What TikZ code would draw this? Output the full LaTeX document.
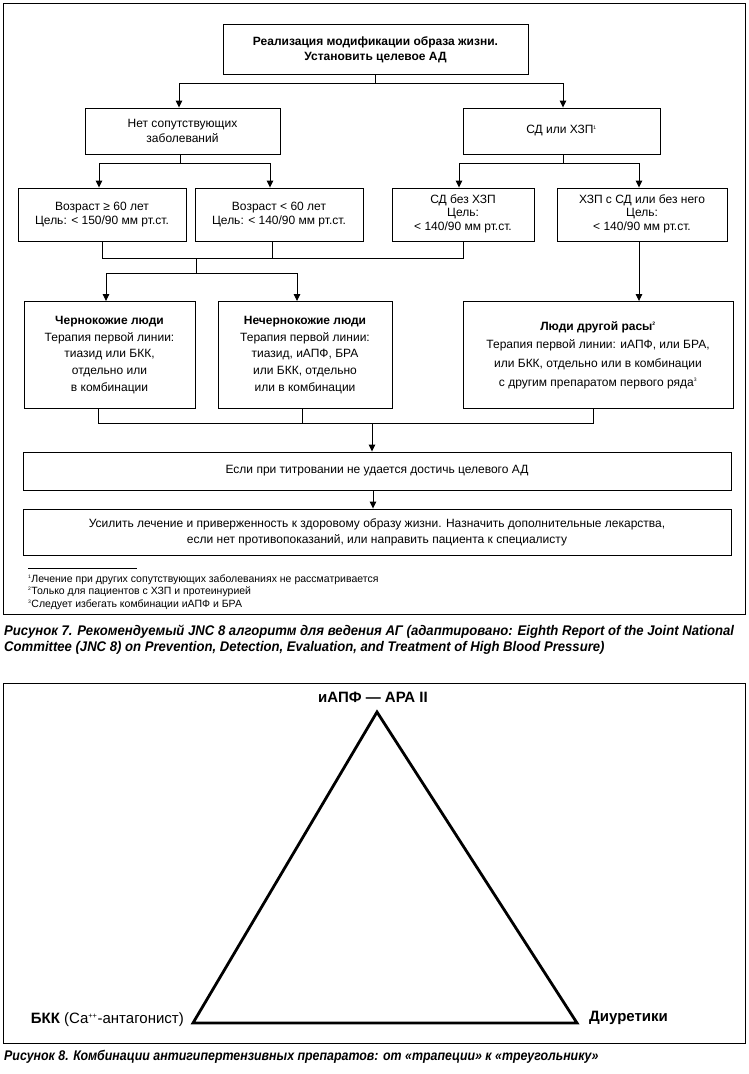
\documentclass[tikz,border=0pt]{standalone}
\usepackage{fontspec}
\setmainfont{Liberation Sans}
\usetikzlibrary{arrows.meta}
\newcommand{\capfont}{\fontsize{14}{16}\selectfont\bfseries\itshape}
\begin{document}
\begin{tikzpicture}[x=1pt,y=-1pt,
  box/.style={draw, line width=0.9pt, align=center, inner sep=0pt, font=\fontsize{12}{14}\selectfont},
  arr/.style={-{Triangle[width=6.5pt,length=7pt]}, line width=0.9pt},
  ln/.style={line width=0.9pt},
  framebox/.style={draw, line width=0.9pt},
  notetext/.style={inner sep=0pt, align=left, font=\fontsize{10.5}{12.5}\selectfont},
  captext/.style={inner sep=0pt, anchor=west, font=\capfont},
  triline/.style={line width=2.8pt, line join=miter},
  labtext/.style={inner sep=0pt, font=\fontsize{15}{17}\selectfont\bfseries}]
\useasboundingbox (0,0) rectangle (748,1074);
% ---------- figure 7 frame
\draw[framebox] (3,3) rectangle (745,614);
% ---------- boxes
\node[box, minimum width=305pt, minimum height=50pt, font=\fontsize{12}{15}\selectfont] (top) at (375.5,49.5)
  {\textbf{Реализация модификации образа жизни.}\\\textbf{Установить целевое АД}};
\node[box, minimum width=195pt, minimum height=46pt, font=\fontsize{12}{15}\selectfont] (A) at (182.5,131) {Нет сопутствующих\\заболеваний};
\node[box, minimum width=197pt, minimum height=46pt] (B) at (561.5,131) {СД или ХЗП\textsuperscript{\tiny 1}};
\node[box, minimum width=168pt, minimum height=53pt] (C) at (102,214.5) {Возраст ≥ 60 лет\\Цель: < 150/90 мм рт.ст.};
\node[box, minimum width=168pt, minimum height=53pt] (D) at (279,214.5) {Возраст < 60 лет\\Цель: < 140/90 мм рт.ст.};
\node[box, minimum width=142pt, minimum height=53pt, font=\fontsize{12}{13.2}\selectfont, text depth=4pt] (E) at (463,214.5) {СД без ХЗП\\Цель:\\< 140/90 мм рт.ст.};
\node[box, minimum width=170pt, minimum height=53pt, font=\fontsize{12}{13.2}\selectfont, text depth=4pt] (F) at (642,214.5) {ХЗП с СД или без него\\Цель:\\< 140/90 мм рт.ст.};
\node[box, minimum width=171pt, minimum height=107pt, font=\fontsize{12}{16.7}\selectfont] (G) at (109.5,355)
  {\textbf{Чернокожие люди}\\Терапия первой линии:\\тиазид или БКК,\\отдельно или\\в комбинации};
\node[box, minimum width=174pt, minimum height=107pt, font=\fontsize{12}{16.7}\selectfont] (H) at (305,355)
  {\textbf{Нечернокожие люди}\\Терапия первой линии:\\тиазид, иАПФ, БРА\\или БКК, отдельно\\или в комбинации};
\node[box, minimum width=270pt, minimum height=107pt, font=\fontsize{12}{18.7}\selectfont] (I) at (598,355)
  {\textbf{Люди другой расы\textsuperscript{\tiny 2}}\\Терапия первой линии: иАПФ, или БРА,\\или БКК, отдельно или в комбинации\\с другим препаратом первого ряда\textsuperscript{\tiny 3}};
\node[box, minimum width=708pt, minimum height=38pt] (J) at (377,471) {Если при титровании не удается достичь целевого АД};
\node[box, minimum width=708pt, minimum height=46pt, font=\fontsize{12}{16}\selectfont] (K) at (377,532)
  {Усилить лечение и приверженность к здоровому образу жизни. Назначить дополнительные лекарства,\\если нет противопоказаний, или направить пациента к специалисту};
% ---------- connectors
\path (top.south) ++(0,8.5) coordinate (j0);
\draw[ln] (top.south) -- (j0);
\draw[arr] (j0) -| ([xshift=-3.5pt]A.north);
\draw[arr] (j0) -| ([xshift=1.5pt]B.north);
\path ([xshift=-2.5pt]A.south) ++(0,9) coordinate (j1);
\draw[ln] ([xshift=-2.5pt]A.south) -- (j1);
\draw[arr] (j1) -| ([xshift=-3pt]C.north);
\draw[arr] (j1) -| ([xshift=-9pt]D.north);
\path ([xshift=1.5pt]B.south) ++(0,9) coordinate (j2);
\draw[ln] ([xshift=1.5pt]B.south) -- (j2);
\draw[arr] (j2) -| ([xshift=-4pt]E.north);
\draw[arr] (j2) -| ([xshift=-3pt]F.north);
\coordinate (m1) at (196,258);
\coordinate (m2) at (196,273);
\draw[ln] (C.south) |- (m1);
\draw[ln] (E.south) |- (m1);
\draw[ln] ([xshift=-7pt]D.south) -- ([xshift=-7pt]D.south |- m1);
\draw[ln] (m1) -- (m2);
\draw[arr] (m2) -| ([xshift=-3.5pt]G.north);
\draw[arr] (m2) -| ([xshift=-8pt]H.north);
\draw[arr] ([xshift=-3pt]F.south) -- ([xshift=-3pt]F.south |- I.north);
\coordinate (m3) at (372,423);
\draw[ln] ([xshift=-11.5pt]G.south) |- (m3);
\draw[ln] ([xshift=-5pt]I.south) |- (m3);
\draw[ln] ([xshift=-3pt]H.south) -- ([xshift=-3pt]H.south |- m3);
\draw[arr] (m3) -- ([xshift=-5pt]J.north);
\draw[arr] ([xshift=-4pt]J.south) -- ([xshift=-4pt]K.north);
% ---------- footnotes
\draw[ln] (28,568) -- (137,568);
\node[notetext, anchor=north west] (notes) at (28,574.5)
  {\textsuperscript{\tiny 1}Лечение при других сопутствующих заболеваниях не рассматривается\\
   \textsuperscript{\tiny 2}Только для пациентов с ХЗП и протеинурией\\
   \textsuperscript{\tiny 3}Следует избегать комбинации иАПФ и БРА};
% ---------- caption 7
\node[captext] (cap7a) at (4,632) {\scalebox{0.937}[1]{Рисунок 7. Рекомендуемый JNC 8 алгоритм для ведения АГ (адаптировано: Eighth Report of the Joint National}};
\node[captext] (cap7b) at (4,648) {\scalebox{0.937}[1]{Committee (JNC 8) on Prevention, Detection, Evaluation, and Treatment of High Blood Pressure)}};
% ---------- figure 8
\draw[framebox] (3,683) rectangle (745,1043);
\coordinate (tA) at (377,712);
\coordinate (tB) at (193,1023);
\coordinate (tC) at (577,1023);
\draw[triline] (tA) -- (tB) -- (tC) -- cycle;
\node[labtext] (lA) at (373,697) {иАПФ — АРА II};
\node[labtext, anchor=east, font=\fontsize{15}{17}\selectfont] (lB) at (184,1020) {\textbf{БКК} (Ca\textsuperscript{\fontsize{7.5}{8}\selectfont ++}-антагонист)};
\node[labtext, anchor=west] (lC) at (589,1018) {Диуретики};
\node[captext] (cap8) at (4,1057) {\scalebox{0.885}[1]{Рисунок 8. Комбинации антигипертензивных препаратов: от «трапеции» к «треугольнику»}};
\end{tikzpicture}
\end{document}
